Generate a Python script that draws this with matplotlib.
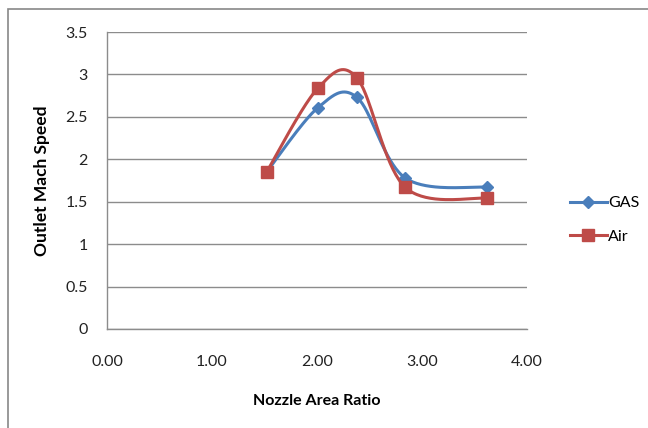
import numpy as np
import matplotlib.pyplot as plt
from matplotlib.patches import Rectangle

plt.rcParams['font.family'] = ['Lato', 'DejaVu Sans']

# data
area_ratio = [1.52, 2.01, 2.38, 2.84, 3.62]
gas_speed = [1.85, 2.61, 2.73, 1.78, 1.67]
air_speed = [1.85, 2.84, 2.96, 1.67, 1.54]
x_ticks = [0, 1, 2, 3, 4]
y_ticks = [0, 0.5, 1, 1.5, 2, 2.5, 3, 3.5]

BLUE = '#4A7EBB'
RED = '#BE4B48'
GRID = '#8C8C8C'


def smooth(xs, ys, n=40):
    # Excel style smoothed line: Catmull-Rom through the points as cubic Bezier
    p = np.column_stack([xs, ys]).astype(float)
    p = np.vstack([p[0], p, p[-1]])
    out = []
    t = np.linspace(0, 1, n)[:, None]
    for i in range(1, len(p) - 2):
        p0, p1, p2, p3 = p[i - 1], p[i], p[i + 1], p[i + 2]
        b1 = p1 + (p2 - p0) / 6
        b2 = p2 - (p3 - p1) / 6
        seg = ((1 - t) ** 3) * p1 + 3 * ((1 - t) ** 2) * t * b1 + 3 * (1 - t) * t ** 2 * b2 + t ** 3 * p2
        out.append(seg)
    out = np.vstack(out)
    return out[:, 0], out[:, 1]


fig = plt.figure(figsize=(6.48, 4.28), dpi=100, facecolor='white')
fig.patches.append(Rectangle((8 / 648, -0.2), 1.5, 1.2 - 9 / 428, transform=fig.transFigure,
                             fill=False, edgecolor='#878787', linewidth=1.2))

ax = fig.add_axes([107 / 648, 1 - 329 / 428, 420 / 648, 297 / 428])

gx, gy = smooth(area_ratio, gas_speed)
ax.plot(gx, gy, color=BLUE, linewidth=2.2, solid_capstyle='round', zorder=3)
ax.plot(area_ratio, gas_speed, linestyle='none', marker='D', markersize=6, color=BLUE, zorder=4)
ax.plot([], [], color=BLUE, linewidth=2.2, marker='D', markersize=6, label='GAS')

ax_, ay = smooth(area_ratio, air_speed)
ax.plot(ax_, ay, color=RED, linewidth=2.2, solid_capstyle='round', zorder=5)
ax.plot(area_ratio, air_speed, linestyle='none', marker='s', markersize=9, color=RED, zorder=6)
ax.plot([], [], color=RED, linewidth=2.2, marker='s', markersize=9, label='Air')

ax.set_xlim(0, 4)
ax.set_ylim(0, 3.5)
ax.set_xticks(x_ticks)
ax.set_xticklabels(['%.2f' % v for v in x_ticks])
ax.set_yticks(y_ticks)
ax.set_yticklabels(['%g' % v for v in y_ticks])
ax.tick_params(length=0, labelsize=11.5, colors='#222222')
ax.tick_params(axis='x', pad=19)
ax.tick_params(axis='y', pad=14)

ax.grid(axis='y', color=GRID, linewidth=1)
ax.set_axisbelow(True)
for s in ['top', 'right']:
    ax.spines[s].set_visible(False)
for s in ['left', 'bottom']:
    ax.spines[s].set_color(GRID)
    ax.spines[s].set_linewidth(1)

ax.set_xlabel('Nozzle Area Ratio', fontsize=11.5, fontweight='bold', labelpad=18)
ax.set_ylabel('Outlet Mach Speed', fontsize=12.5, fontweight='bold', labelpad=11)

leg = ax.legend(loc='upper left', bbox_to_anchor=(570 / 648, 1 - 196 / 428),
                bbox_transform=fig.transFigure, frameon=False, fontsize=11.5,
                handlelength=2.3, handletextpad=0.1, labelspacing=1.2,
                borderpad=0, borderaxespad=0)

plt.savefig('out.png', dpi=100)
